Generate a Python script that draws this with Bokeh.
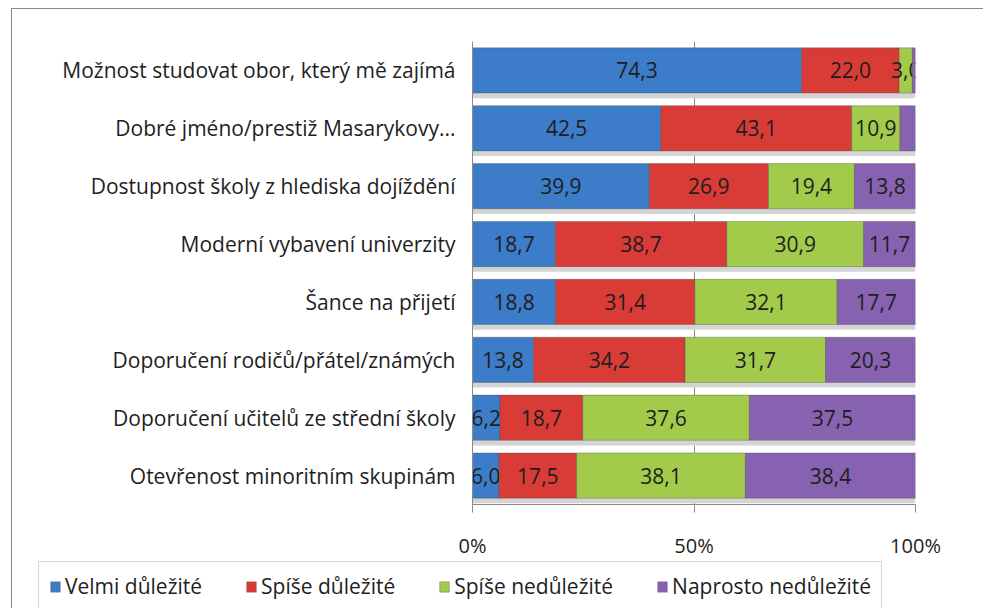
from bokeh.plotting import figure
from bokeh.layouts import column
from bokeh.models import ColumnDataSource, Legend, LegendItem, FactorRange, FixedTicker, CustomJSTickFormatter
from bokeh.transform import dodge
from bokeh.embed import file_html
from bokeh.resources import INLINE
from bokeh.core.properties import value

categories = [
    "Možnost studovat obor, který mě zajímá",
    "Dobré jméno/prestiž Masarykovy...",
    "Dostupnost školy z hlediska dojíždění",
    "Moderní vybavení univerzity",
    "Šance na přijetí",
    "Doporučení rodičů/přátel/známých",
    "Doporučení učitelů ze střední školy",
    "Otevřenost minoritním skupinám",
]
series_names = ["Velmi důležité", "Spíše důležité", "Spíše nedůležité", "Naprosto nedůležité"]
velmi = [74.3, 42.5, 39.9, 18.7, 18.8, 13.8, 6.2, 6.0]
spise = [22.0, 43.1, 26.9, 38.7, 31.4, 34.2, 18.7, 17.5]
spise_ne = [3.0, 10.9, 19.4, 30.9, 32.1, 31.7, 37.6, 38.1]
naprosto = [0.7, 3.5, 13.8, 11.7, 17.7, 20.3, 37.5, 38.4]
show_label = [[True] * 8, [True] * 8, [True] * 8, [False, False, True, True, True, True, True, True]]
x_ticks = [0, 50, 100]

colors = ["#3D7CC9", "#D93B37", "#A2CB4C", "#8762B0"]
series = [velmi, spise, spise_ne, naprosto]

FONT = "Open Sans"
p = figure(width=972, height=552, output_backend="svg", toolbar_location=None,
           y_range=FactorRange(*list(reversed(categories)), range_padding=0.0),
           x_range=(0, 100),
           min_border_left=460, min_border_right=69, min_border_top=32, min_border_bottom=56,
           styles={"border-left": "1px solid #8a8a8a", "border-top": "1px solid #8a8a8a",
                   "margin-left": "11px", "margin-top": "8px"})
p.outline_line_color = None
p.ygrid.grid_line_color = None
p.xgrid.grid_line_color = "#8a8a8a"
p.xgrid.ticker = FixedTicker(ticks=x_ticks)

# shadow
totals = [sum(s[i] for s in series) for i in range(8)]
shadow = ColumnDataSource(dict(cat=categories, total=totals))
p.hbar(y=dodge("cat", -0.09, range=p.y_range), left=0, right="total", height=0.78,
       source=shadow, fill_color="#d4d4d4", line_color=None)

left = [0.0] * 8
for k, (vals, col) in enumerate(zip(series, colors)):
    right = [l + v for l, v in zip(left, vals)]
    mid = [(l + r) / 2 for l, r in zip(left, right)]
    labels = [("%.1f" % v).replace(".", ",") if sh else "" for v, sh in zip(vals, show_label[k])]
    src = ColumnDataSource(dict(cat=categories, left=left, right=right, mid=mid, lab=labels))
    p.hbar(y="cat", left="left", right="right", height=0.78, source=src,
           fill_color=col, line_color="#4a4a4a", line_alpha=0.35, line_width=1)
    p.text(x="mid", y="cat", text="lab", source=src, text_align="center", text_baseline="middle",
           text_font=value(FONT), text_font_size="21px", text_color="#1e1e1e")
    left = right

p.xaxis.ticker = FixedTicker(ticks=x_ticks)
p.xaxis.formatter = CustomJSTickFormatter(code="return tick + '%';")
p.xaxis.major_label_text_font = FONT
p.xaxis.major_label_text_font_size = "20px"
p.xaxis.major_label_text_color = "#1e1e1e"
p.xaxis.major_label_standoff = 19
p.xaxis.axis_line_color = "#8a8a8a"
p.xaxis.major_tick_line_color = "#8a8a8a"
p.xaxis.major_tick_out = 8
p.xaxis.major_tick_in = 0
p.xaxis.minor_tick_line_color = None

p.yaxis.major_label_text_font = FONT
p.yaxis.major_label_text_font_size = "21px"
p.yaxis.major_label_text_color = "#1e1e1e"
p.yaxis.major_label_standoff = 11
p.yaxis.axis_line_color = "#8a8a8a"
p.yaxis.major_tick_line_color = None
p.yaxis.minor_tick_line_color = None

# legend strip (separate figure so the legend may extend left of the bar area)
pl = figure(width=972, height=48, output_backend="svg", toolbar_location=None,
            x_range=(0, 1), y_range=(0, 1),
            min_border_left=0, min_border_right=0, min_border_top=0, min_border_bottom=0,
            styles={"border-left": "1px solid #8a8a8a", "margin-left": "11px"})
pl.frame_align = False
pl.axis.visible = False
pl.grid.visible = False
pl.outline_line_color = None
items = []
for name, col in zip(series_names, colors):
    r = pl.quad(left=[5], right=[6], top=[5], bottom=[4], fill_color=col, line_color="#4a4a4a", line_alpha=0.35)
    items.append(LegendItem(label=name, renderers=[r]))
legend = Legend(items=items, orientation="horizontal", location=(26, -3),
                label_text_font=FONT, label_text_font_size="21px", label_text_color="#1e1e1e",
                border_line_color="#8fb0d8", glyph_width=12, glyph_height=13,
                spacing=43, padding=10, margin=0, label_standoff=4)
pl.add_layout(legend, "center")

layout = column(p, pl, spacing=0)
open("out.html", "w").write(file_html(layout, INLINE))
